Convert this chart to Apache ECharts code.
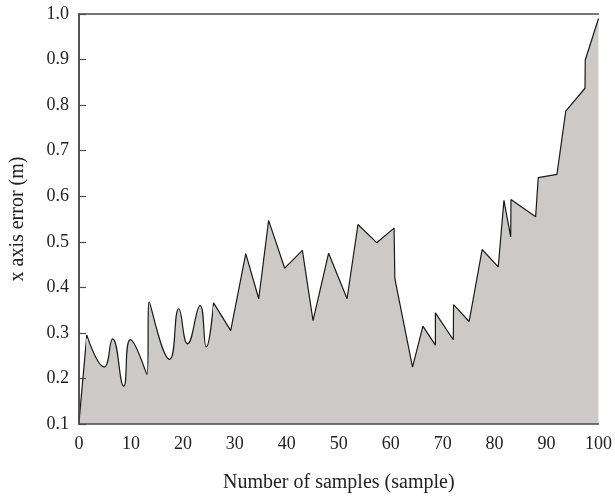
<!DOCTYPE html>
<html><head><meta charset="utf-8">
<script src="https://cdn.jsdelivr.net/npm/echarts@6/dist/echarts.min.js"></script>
<style>html,body{margin:0;padding:0;background:#fff}#c{width:615px;height:498px}</style>
</head><body><div id="c"></div>
<script>
// segment 1: straight start
var startX = [0, 1.5];
var startY = [0.104, 0.295];
// segment 2: smooth wavy part
var wavyX = [1.5, 4.85, 6.46, 8.6, 9.9, 13.1, 13.5, 17.45, 19.2, 20.9, 23.3, 24.5, 25.9];
var wavyY = [0.295, 0.225, 0.287, 0.183, 0.285, 0.209, 0.368, 0.242, 0.353, 0.276, 0.360, 0.269, 0.366];
// segment 3: straight jagged part
var jagX = [25.9, 29.2, 32.1, 34.6, 36.5, 39.6, 43.0, 45.05, 48.05, 51.6, 53.7, 57.3, 60.65, 60.8, 64.2, 66.2, 68.6, 68.6, 72.05, 72.1, 75.1, 77.6, 80.7, 81.8, 83.1, 83.15, 87.9, 88.4, 92.0, 93.7, 97.4, 97.45, 100];
var jagY = [0.366, 0.305, 0.474, 0.375, 0.547, 0.442, 0.481, 0.327, 0.475, 0.375, 0.538, 0.498, 0.530, 0.419, 0.225, 0.315, 0.273, 0.344, 0.285, 0.362, 0.325, 0.483, 0.445, 0.591, 0.511, 0.593, 0.555, 0.641, 0.648, 0.787, 0.837, 0.899, 0.99];
var xTicks = [0, 10, 20, 30, 40, 50, 60, 70, 80, 90, 100];
var yTicks = [0.1, 0.2, 0.3, 0.4, 0.5, 0.6, 0.7, 0.8, 0.9, 1.0];

function pairs(xs, ys){ return xs.map(function(x,i){return [x, ys[i]];}); }
var font = 'Liberation Serif';
var lineCol = '#1a1a1a', fillCol = '#cbcac9', axisCol = '#4a4a4a';
var yMin = yTicks[0];
function seam(x, y){
  return {symbol:'none', silent:true, label:{show:false},
    lineStyle:{color:fillCol, width:2, type:'solid'},
    data:[[{coord:[x, yMin]}, {coord:[x, y - 0.008]}]]};
}
function seg(data, smooth, mark){
  var s = {type:'line', data:data, smooth:smooth, symbol:'none', z:2,
    lineStyle:{color:lineCol, width:1.2}, areaStyle:{color:fillCol, opacity:1, origin:'start'}};
  if (mark) s.markLine = mark;
  return s;
}
var chart = echarts.init(document.getElementById('c'));
chart.setOption({
  animation:false,
  grid:{left:79, right:15, top:14, bottom:74},
  xAxis:[{type:'value', min:xTicks[0], max:xTicks[xTicks.length-1], interval:10, z:10,
    axisLine:{lineStyle:{color:axisCol, width:1.5}}, axisTick:{show:false}, splitLine:{show:false},
    axisLabel:{color:'#222', fontFamily:font, fontSize:18, margin:11},
    name:'Number of samples (sample)', nameLocation:'middle', nameGap:49,
    nameTextStyle:{color:'#222', fontFamily:font, fontSize:20}},
   {type:'value', position:'top', min:0, max:100, z:10, axisLine:{show:true, lineStyle:{color:axisCol, width:1.5}},
    axisTick:{show:false}, axisLabel:{show:false}, splitLine:{show:false}}],
  yAxis:[{type:'value', min:yMin, max:yTicks[yTicks.length-1], interval:0.1, z:10,
    axisLine:{show:true, lineStyle:{color:axisCol, width:1.5}},
    axisTick:{show:true, inside:true, length:7, lineStyle:{color:axisCol, width:1.2}}, splitLine:{show:false},
    axisLabel:{color:'#222', fontFamily:font, fontSize:18, margin:10, formatter:function(v){return v.toFixed(1);}},
    name:'x axis error (m)', nameLocation:'middle', nameGap:51,
    nameTextStyle:{color:'#222', fontFamily:font, fontSize:20}},
   {type:'value', position:'right', min:yMin, max:1.0, z:10, axisLine:{show:true, lineStyle:{color:axisCol, width:1.5}},
    axisTick:{show:false}, axisLabel:{show:false}, splitLine:{show:false}}],
  series:[
    seg(pairs(startX,startY), false, seam(startX[startX.length-1], startY[startY.length-1])),
    seg(pairs(wavyX,wavyY), 0.5, seam(wavyX[wavyX.length-1], wavyY[wavyY.length-1])),
    seg(pairs(jagX,jagY), false)]
});
</script></body></html>
